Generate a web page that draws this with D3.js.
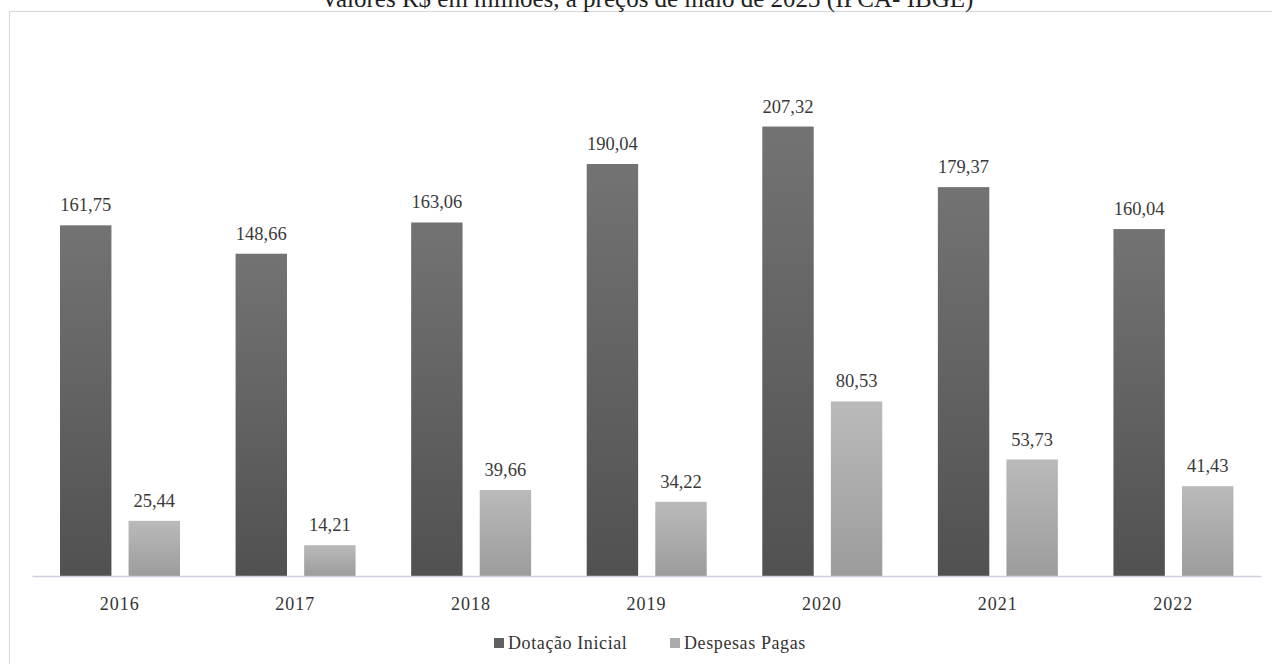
<!DOCTYPE html>
<html><head><meta charset="utf-8">
<script src="https://cdn.jsdelivr.net/npm/d3@7"></script>
<style>
html,body{margin:0;padding:0;background:#fff;overflow:hidden}
svg text{font-family:'Liberation Serif','Times New Roman','DejaVu Serif',serif}
</style></head>
<body><svg id="chart"></svg>
<script>
const W=1272,H=664;
const years=['2016','2017','2018','2019','2020','2021','2022'];
const dotacao=[161.75,148.66,163.06,190.04,207.32,179.37,160.04];
const despesas=[25.44,14.21,39.66,34.22,80.53,53.73,41.43];
const seriesNames=['Dotação Inicial','Despesas Pagas'];
const title='Valores R$ em milhões, a preços de maio de 2023 (IPCA- IBGE)';
const SERIF="'Liberation Serif','Times New Roman','DejaVu Serif',serif";

const svg=d3.select('#chart').attr('width',W).attr('height',H);
const defs=svg.append('defs');
const grads=[['gDark','#737373','#515151'],['gLight','#bababa','#9c9c9c']];
grads.forEach(([id,c0,c1])=>{
  const g=defs.append('linearGradient').attr('id',id).attr('x1',0).attr('y1',0).attr('x2',0).attr('y2',1);
  g.append('stop').attr('offset','0%').attr('stop-color',c0);
  g.append('stop').attr('offset','100%').attr('stop-color',c1);
});
const fills=['url(#gDark)','url(#gLight)'];
const legendFills=['#5f5f5f','#ababab'];

// frame
svg.append('rect').attr('x',9.5).attr('y',11.5).attr('width',W+20).attr('height',H)
  .attr('fill','#fff').attr('stroke','#d9d9e0').attr('stroke-width',1.2);

// title sits mostly above the visible area, as in the source picture
svg.append('text').attr('x',647).attr('y',7).attr('text-anchor','middle')
  .style('font-family',SERIF).style('font-size','25px').attr('fill','#222').text(title);

const x=d3.scaleBand().domain(years).range([32,1261]).paddingInner(0).paddingOuter(0);
const y=d3.scaleLinear().domain([0,250]).range([576,34]);
const inner=d3.scaleBand().domain([0,1]).range([28,148]).paddingInner(0.25);

const data=years.map((yr,i)=>({yr,vals:[dotacao[i],despesas[i]]}));
const grp=svg.append('g').selectAll('g').data(data).join('g')
  .attr('transform',d=>`translate(${x(d.yr)},0)`);
grp.selectAll('rect').data(d=>d.vals).join('rect')
  .attr('x',(v,j)=>inner(j)).attr('width',inner.bandwidth())
  .attr('y',v=>y(v)).attr('height',v=>y(0)-y(v))
  .attr('fill',(v,j)=>fills[j]);
grp.selectAll('text.val').data(d=>d.vals).join('text').attr('class','val')
  .attr('x',(v,j)=>inner(j)+inner.bandwidth()/2).attr('y',v=>y(v)-14)
  .attr('text-anchor','middle').style('font-family',SERIF).style('font-size','18.5px').attr('fill','#3a3a3a')
  .text(v=>v.toFixed(2).replace('.',','));

const ax=svg.append('g').attr('transform','translate(0,576)')
  .call(d3.axisBottom(x).tickSize(0).tickPadding(21));
ax.attr('font-family',null);
ax.select('.domain').attr('stroke','#d0d0dc').attr('stroke-width',1.5);
ax.selectAll('text').style('font-family',SERIF).style('font-size','18px').style('letter-spacing','1px')
  .attr('fill','#333');

const leg=svg.append('g').attr('transform','translate(494,643)');
const legX=[0,176];
seriesNames.forEach((n,j)=>{
  const g=leg.append('g').attr('transform',`translate(${legX[j]},0)`);
  g.append('rect').attr('x',0).attr('y',-5).attr('width',10).attr('height',10).attr('fill',legendFills[j]);
  g.append('text').attr('x',14).attr('y',6).style('font-family',SERIF).style('font-size','18px').style('letter-spacing','0.6px')
    .attr('fill','#333').text(n);
});
</script></body></html>
